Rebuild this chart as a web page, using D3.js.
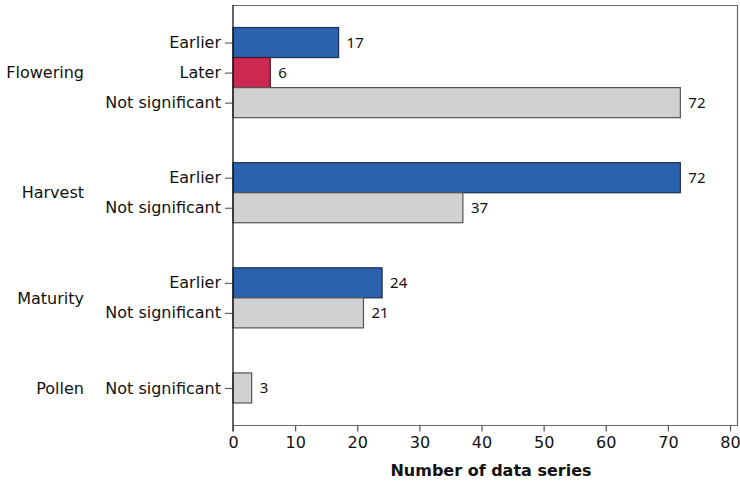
<!DOCTYPE html>
<html>
<head>
<meta charset="utf-8">
<script src="https://cdn.jsdelivr.net/npm/d3@7/dist/d3.min.js"></script>
<style>
  html, body { margin: 0; padding: 0; background: #fff; }
  svg { display: block; }
</style>
</head>
<body>
<svg id="chart" width="740" height="487"></svg>
<script>
// Phenology shifts: number of data series per stage and direction
const groups = ["Flowering", "Harvest", "Maturity", "Pollen"];
const rowGroup = ["Flowering", "Flowering", "Flowering", "Harvest", "Harvest", "Maturity", "Maturity", "Pollen"];
const rowLabel = ["Earlier", "Later", "Not significant", "Earlier", "Not significant", "Earlier", "Not significant", "Not significant"];
const rowValue = [17, 6, 72, 72, 37, 24, 21, 3];
const xTicks = [0, 10, 20, 30, 40, 50, 60, 70, 80];

const colorByLabel = {
  "Earlier": "#2b62ad",
  "Later": "#cd2851",
  "Not significant": "#d0d1d0"
};
const strokeByLabel = {
  "Earlier": "#1c2f52",
  "Later": "#4a1622",
  "Not significant": "#555555"
};

const svg = d3.select("#chart");
const plotLeft = 233, plotRight = 737.5, plotTop = 5, plotBottom = 425.5;

const x = d3.scaleLinear().domain([0, 81.2]).range([plotLeft, plotRight]);

// Slot layout: each bar takes one slot, groups separated by 1.5 slots,
// with 0.75 slot of margin at the top and bottom.
const slotStart = [];
let cursor = 0.75;
rowGroup.forEach((g, i) => {
  if (i > 0 && g !== rowGroup[i - 1]) cursor += 1.5;
  slotStart.push(cursor);
  cursor += 1;
});
const totalSlots = cursor + 0.75;
const slot = d3.scaleLinear().domain([0, totalSlots]).range([plotTop, plotBottom]);
const barH = slot(1) - slot(0);

const ids = rowLabel.map((d, i) => String(i));
const yCenter = d3.scaleOrdinal()
  .domain(ids)
  .range(slotStart.map(s => slot(s + 0.5)));

const labelFont = "'DejaVu Sans', Verdana, sans-serif";

// Frame (top, right, bottom)
svg.append("path")
  .attr("d", `M${plotLeft},${plotTop + 0.5}H${plotRight}V${plotBottom}H${plotLeft}`)
  .attr("fill", "none")
  .attr("stroke", "#6a6a6a")
  .attr("stroke-width", 1.2);

// Bars
svg.append("g").selectAll("rect")
  .data(rowValue)
  .join("rect")
  .attr("x", x(0))
  .attr("y", (d, i) => slot(slotStart[i]))
  .attr("width", d => x(d) - x(0))
  .attr("height", barH)
  .attr("fill", (d, i) => colorByLabel[rowLabel[i]])
  .attr("stroke", (d, i) => strokeByLabel[rowLabel[i]])
  .attr("stroke-width", 1.2);

// Value labels
svg.append("g").selectAll("text")
  .data(rowValue)
  .join("text")
  .attr("x", d => x(d) + 8)
  .attr("y", (d, i) => yCenter(String(i)))
  .attr("dy", "0.36em")
  .attr("font-family", "'Noto Sans', sans-serif")
  .attr("font-size", 15)
  .attr("fill", "#111")
  .text(d => d);

// Left axis with row labels
const yAxis = d3.axisLeft(yCenter)
  .tickSize(8)
  .tickPadding(4)
  .tickFormat(d => rowLabel[+d]);
const gy = svg.append("g")
  .attr("transform", `translate(${plotLeft},0)`)
  .call(yAxis);
gy.select(".domain").remove();
gy.selectAll(".tick line").attr("stroke", "#444");
gy.selectAll(".tick text")
  .attr("font-family", labelFont)
  .attr("font-size", 16)
  .attr("fill", "#111");
svg.append("line")
  .attr("x1", plotLeft).attr("x2", plotLeft)
  .attr("y1", plotTop).attr("y2", plotBottom + 6)
  .attr("stroke", "#111")
  .attr("stroke-width", 1.3);

// Group labels
svg.append("g").selectAll("text")
  .data(groups)
  .join("text")
  .attr("x", 84)
  .attr("y", g => {
    const idx = ids.filter(k => rowGroup[+k] === g).map(k => yCenter(k));
    return (d3.min(idx) + d3.max(idx)) / 2;
  })
  .attr("dy", "0.36em")
  .attr("text-anchor", "end")
  .attr("font-family", labelFont)
  .attr("font-size", 16)
  .attr("fill", "#111")
  .text(g => g);

// Bottom axis
const xAxis = d3.axisBottom(x)
  .tickValues(xTicks)
  .tickSize(6)
  .tickPadding(5)
  .tickFormat(d3.format("d"));
const gx = svg.append("g")
  .attr("transform", `translate(0,${plotBottom})`)
  .call(xAxis);
gx.select(".domain").remove();
gx.selectAll(".tick line").attr("stroke", "#555").attr("stroke-width", 1.2);
gx.selectAll(".tick text")
  .attr("font-family", labelFont)
  .attr("font-size", 16)
  .attr("fill", "#111");

// Axis title
svg.append("text")
  .attr("x", 491)
  .attr("y", 476)
  .attr("text-anchor", "middle")
  .attr("font-family", labelFont)
  .attr("font-weight", "bold")
  .attr("font-size", 16)
  .attr("fill", "#111")
  .text("Number of data series");
</script>
</body>
</html>
